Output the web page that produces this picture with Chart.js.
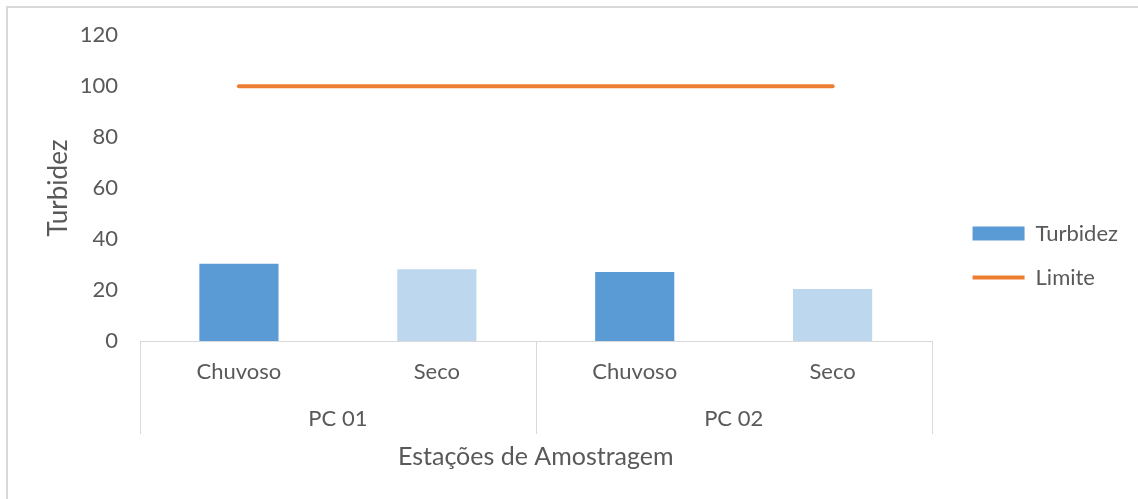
<!DOCTYPE html>
<html>
<head>
<meta charset="utf-8">
<script src="https://cdn.jsdelivr.net/npm/chart.js@4"></script>
<style>
  html, body { margin: 0; padding: 0; background: #fff; }
</style>
</head>
<body>
<canvas id="chart" width="1138" height="499"></canvas>
<script>
// data
const seasons = ['Chuvoso', 'Seco', 'Chuvoso', 'Seco'];
const stations = ['PC 01', 'PC 02'];
const turbidez = [30.3, 28.2, 27.1, 20.4];
const limite = [100, 100, 100, 100];

const textColor = '#595959';
const lineGrey = '#d9d9d9';
const font = size => ({ family: 'Lato', size: size });

// empty axis used only to reserve space around the plot
const spacer = (position, size) => ({
  type: 'linear',
  position: position,
  display: true,
  grid: { display: false, drawTicks: false },
  border: { display: false },
  ticks: { display: false },
  afterFit: s => {
    if (position === 'top') s.height = size; else s.width = size;
  }
});

// separators of the two-level category axis + the light frame
const groupLines = {
  id: 'groupLines',
  afterDraw(chart) {
    const ctx = chart.ctx;
    const area = chart.chartArea;
    const x = chart.scales.x;
    const mid = (x.getPixelForValue(1) + x.getPixelForValue(2)) / 2;
    ctx.save();
    ctx.strokeStyle = lineGrey;
    ctx.lineWidth = 1;
    [area.left, mid, area.right].forEach(px => {
      const p = Math.round(px) + 0.5;
      ctx.beginPath();
      ctx.moveTo(p, area.bottom);
      ctx.lineTo(p, 434);
      ctx.stroke();
    });
    ctx.lineWidth = 2;
    ctx.beginPath();
    ctx.moveTo(7, 499);
    ctx.lineTo(7, 7);
    ctx.lineTo(1138, 7);
    ctx.stroke();
    ctx.restore();
  }
};

new Chart(document.getElementById('chart'), {
  data: {
    labels: seasons,
    datasets: [{
      type: 'bar',
      label: 'Turbidez',
      data: turbidez,
      backgroundColor: ctx => ctx.dataIndex % 2 === 0 ? '#5b9bd5' : '#bdd7ee',
      borderWidth: 0,
      barPercentage: 0.4,
      categoryPercentage: 1,
      pointStyle: 'rect',
      order: 2
    }, {
      type: 'line',
      label: 'Limite',
      data: limite,
      borderColor: '#ed7d31',
      backgroundColor: '#ed7d31',
      borderWidth: 4,
      borderCapStyle: 'round',
      pointRadius: 0,
      pointStyle: 'line',
      order: 1
    }]
  },
  options: {
    responsive: false,
    animation: false,
    layout: { padding: { top: 12, right: 10, bottom: 0, left: 0 } },
    plugins: {
      tooltip: { enabled: false },
      legend: {
        position: 'right',
        align: 'center',
        labels: {
          color: textColor,
          font: font(22),
          usePointStyle: true,
          pointStyleWidth: 52,
          boxWidth: 52,
          boxHeight: 14,
          padding: 22,
          sort: (a, b) => a.datasetIndex - b.datasetIndex
        }
      }
    },
    scales: {
      x: {
        offset: true,
        grid: { display: false, drawTicks: false },
        border: { display: true, color: lineGrey },
        ticks: { color: textColor, font: font(22), padding: 18 },
        afterFit: s => { s.height = 47; }
      },
      x2: {
        type: 'category',
        position: 'bottom',
        labels: stations,
        offset: true,
        grid: { display: false, drawTicks: false },
        border: { display: false },
        ticks: { color: textColor, font: font(22), padding: 18 },
        title: {
          display: true,
          text: 'Estações de Amostragem',
          color: textColor,
          font: font(25),
          padding: { top: 0, bottom: 27 }
        },
        afterFit: s => { s.height = 111; }
      },
      y: {
        min: 0,
        max: 120,
        grid: { display: false, drawTicks: false },
        border: { display: false },
        ticks: { stepSize: 20, color: textColor, font: font(22), padding: 22 },
        title: {
          display: true,
          text: 'Turbidez',
          color: textColor,
          font: font(26),
          padding: { top: 43, bottom: 0 }
        },
        afterFit: s => { s.width = 140; }
      },
      gapRight: spacer('right', 19),
      gapTop: spacer('top', 22)
    }
  },
  plugins: [groupLines]
});
</script>
</body>
</html>
